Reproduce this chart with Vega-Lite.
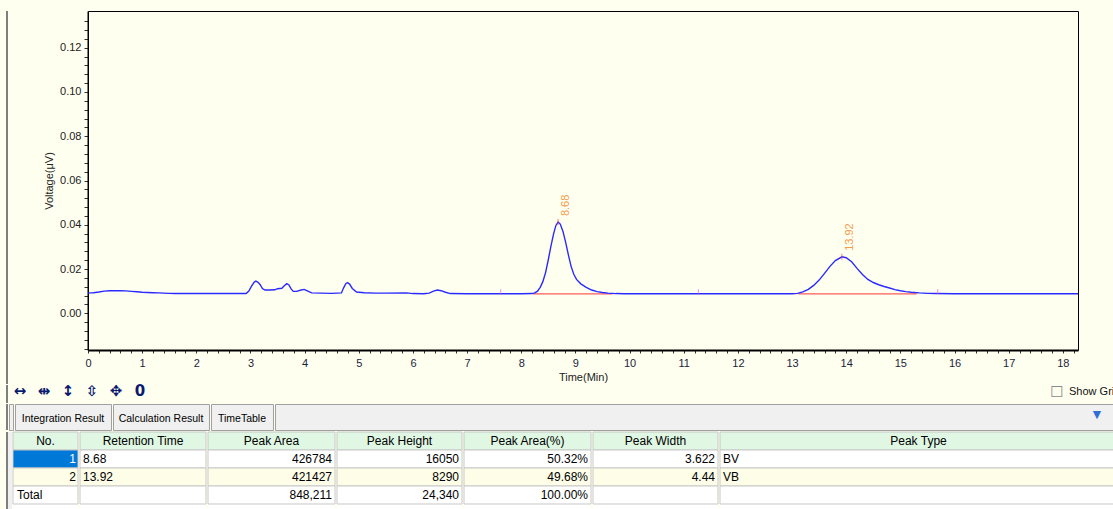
{
  "$schema": "https://vega.github.io/schema/vega-lite/v6.json",
  "background": "#FFFFF0",
  "padding": {"left": 6, "top": 10, "right": 0, "bottom": 0},
  "spacing": 0,
  "config": {"font": "Liberation Sans", "view": {"stroke": null}, "concat": {"spacing": 0}},
  "datasets": {
    "trace": [
      {"t": 0, "v": 0.0091}, {"t": 0.05, "v": 0.0092}, {"t": 0.1, "v": 0.0093}, {"t": 0.2, "v": 0.0096},
      {"t": 0.3, "v": 0.01}, {"t": 0.4, "v": 0.0102}, {"t": 0.5, "v": 0.0102}, {"t": 0.6, "v": 0.0102},
      {"t": 0.7, "v": 0.0101}, {"t": 0.8, "v": 0.0099}, {"t": 0.9, "v": 0.0097}, {"t": 1.0, "v": 0.0095},
      {"t": 1.1, "v": 0.0094}, {"t": 1.2, "v": 0.0093}, {"t": 1.3, "v": 0.0092}, {"t": 1.4, "v": 0.0091},
      {"t": 1.5, "v": 0.009}, {"t": 1.6, "v": 0.0089}, {"t": 1.7, "v": 0.0089}, {"t": 2.0, "v": 0.0089},
      {"t": 2.5, "v": 0.0089}, {"t": 2.92, "v": 0.0089}, {"t": 2.97, "v": 0.01}, {"t": 3.02, "v": 0.0123},
      {"t": 3.07, "v": 0.0141}, {"t": 3.1, "v": 0.0146}, {"t": 3.14, "v": 0.014}, {"t": 3.18, "v": 0.0129},
      {"t": 3.22, "v": 0.0112}, {"t": 3.27, "v": 0.0105}, {"t": 3.35, "v": 0.0105}, {"t": 3.45, "v": 0.0106},
      {"t": 3.5, "v": 0.0111}, {"t": 3.58, "v": 0.0113}, {"t": 3.62, "v": 0.0123}, {"t": 3.67, "v": 0.0134},
      {"t": 3.71, "v": 0.0128}, {"t": 3.75, "v": 0.011}, {"t": 3.79, "v": 0.0099}, {"t": 3.85, "v": 0.0099},
      {"t": 3.92, "v": 0.0104}, {"t": 3.99, "v": 0.0108}, {"t": 4.05, "v": 0.0101}, {"t": 4.13, "v": 0.0092},
      {"t": 4.3, "v": 0.0091}, {"t": 4.5, "v": 0.009}, {"t": 4.68, "v": 0.0092}, {"t": 4.72, "v": 0.0115},
      {"t": 4.76, "v": 0.0134}, {"t": 4.79, "v": 0.0139}, {"t": 4.83, "v": 0.0132}, {"t": 4.88, "v": 0.0112},
      {"t": 4.96, "v": 0.0096}, {"t": 5.1, "v": 0.0093}, {"t": 5.3, "v": 0.0091}, {"t": 5.5, "v": 0.0091},
      {"t": 5.88, "v": 0.0092}, {"t": 6.0, "v": 0.0089}, {"t": 6.2, "v": 0.0088}, {"t": 6.3, "v": 0.0091},
      {"t": 6.38, "v": 0.01}, {"t": 6.45, "v": 0.0105}, {"t": 6.52, "v": 0.0102}, {"t": 6.6, "v": 0.0095},
      {"t": 6.69, "v": 0.0089}, {"t": 7.0, "v": 0.0088}, {"t": 7.5, "v": 0.0088}, {"t": 8.0, "v": 0.0088},
      {"t": 8.2, "v": 0.0089}, {"t": 8.25, "v": 0.0092}, {"t": 8.3, "v": 0.01}, {"t": 8.35, "v": 0.0117},
      {"t": 8.4, "v": 0.0144}, {"t": 8.45, "v": 0.0185}, {"t": 8.5, "v": 0.0243}, {"t": 8.55, "v": 0.0306},
      {"t": 8.6, "v": 0.0362}, {"t": 8.64, "v": 0.0397}, {"t": 8.68, "v": 0.0412}, {"t": 8.72, "v": 0.0403},
      {"t": 8.77, "v": 0.037}, {"t": 8.82, "v": 0.032}, {"t": 8.87, "v": 0.0264}, {"t": 8.92, "v": 0.0212},
      {"t": 8.97, "v": 0.0176}, {"t": 9.02, "v": 0.0153}, {"t": 9.1, "v": 0.0133}, {"t": 9.2, "v": 0.0117},
      {"t": 9.3, "v": 0.0105}, {"t": 9.4, "v": 0.0098}, {"t": 9.5, "v": 0.0094}, {"t": 9.6, "v": 0.0091},
      {"t": 9.75, "v": 0.0089}, {"t": 9.9, "v": 0.0088}, {"t": 10.5, "v": 0.0088}, {"t": 11.0, "v": 0.0088},
      {"t": 12.0, "v": 0.0088}, {"t": 13.0, "v": 0.0088}, {"t": 13.1, "v": 0.009}, {"t": 13.2, "v": 0.0097},
      {"t": 13.3, "v": 0.0108}, {"t": 13.4, "v": 0.0126}, {"t": 13.5, "v": 0.015}, {"t": 13.6, "v": 0.018},
      {"t": 13.7, "v": 0.0212}, {"t": 13.8, "v": 0.0238}, {"t": 13.92, "v": 0.0255}, {"t": 14.0, "v": 0.0251},
      {"t": 14.1, "v": 0.0233}, {"t": 14.2, "v": 0.0203}, {"t": 14.3, "v": 0.0175}, {"t": 14.4, "v": 0.0153},
      {"t": 14.5, "v": 0.0139}, {"t": 14.6, "v": 0.0129}, {"t": 14.7, "v": 0.0121}, {"t": 14.8, "v": 0.0114},
      {"t": 14.9, "v": 0.0107}, {"t": 15.0, "v": 0.0102}, {"t": 15.1, "v": 0.0098}, {"t": 15.2, "v": 0.0095},
      {"t": 15.35, "v": 0.0092}, {"t": 15.5, "v": 0.009}, {"t": 15.65, "v": 0.0089}, {"t": 16.0, "v": 0.0088},
      {"t": 17.0, "v": 0.0088}, {"t": 18.28, "v": 0.0088}
    ],
    "baselines": [
      {"t": 8.22, "t2": 9.68, "v": 0.0088},
      {"t": 13.12, "t2": 15.3, "v": 0.0088}
    ],
    "peaks": [
      {"t": 8.68, "v": 0.0412, "label": "8.68"},
      {"t": 13.92, "v": 0.0255, "label": "13.92"}
    ],
    "events": [
      {"t": 7.62, "v": 0.0097}, {"t": 11.27, "v": 0.0097}, {"t": 15.69, "v": 0.0097}
    ],
    "table": [
      {"row": "h", "no": "No.", "rt": "Retention Time", "area": "Peak Area", "height": "Peak Height", "pct": "Peak Area(%)", "width": "Peak Width", "type": "Peak Type"},
      {"row": "1", "no": "1", "rt": "8.68", "area": "426784", "height": "16050", "pct": "50.32%", "width": "3.622", "type": "BV"},
      {"row": "2", "no": "2", "rt": "13.92", "area": "421427", "height": "8290", "pct": "49.68%", "width": "4.44", "type": "VB"},
      {"row": "Total", "no": "Total", "rt": "", "area": "848,211", "height": "24,340", "pct": "100.00%", "width": "", "type": ""}
    ]
  },
  "vconcat": [
    {
      "spacing": 0,
      "bounds": "flush",
      "hconcat": [
        {"width": 2, "height": 373, "view": {"fill": "#7f7f7f", "stroke": null}, "data": {"values": [{}]}, "mark": {"type": "text", "text": ""}, "encoding": {}},
        {
          "width": 80,
          "height": 339,
          "view": {"fill": "#FFFFF0", "stroke": null},
          "data": {"name": "trace"},
          "mark": {"type": "point", "opacity": 0},
          "encoding": {
            "y": {"field": "v", "type": "quantitative", "scale": {"domain": [-0.0166, 0.1366], "nice": false, "zero": false},
                  "axis": {
                    "orient": "left",
                    "offset": -80,
                    "values": [-0.016,-0.012,-0.008,-0.004,0,0.004,0.008,0.012,0.016,0.02,0.024,0.028,0.032,0.036,0.04,0.044,0.048,0.052,0.056,0.06,0.064,0.068,0.072,0.076,0.08,0.084,0.088,0.092,0.096,0.1,0.104,0.108,0.112,0.116,0.12,0.124,0.128,0.132],
                    "labelExpr": "abs(datum.value*50 - round(datum.value*50)) < 0.01 ? format(datum.value, '.2f') : ''",
                    "tickSize": 4,
                    "title": "Voltage(μV)", "titleFontSize": 11, "titleFontWeight": "normal", "titleColor": "#222222", "titlePadding": 5,
                    "labelFontSize": 11, "labelColor": "#222222", "labelPadding": 3, "labelOverlap": false, "labelBound": false, "labelFlush": false,
                    "domainColor": "#000000", "domainWidth": 2, "tickColor": "#333333", "grid": false
                  }}
          }
        },
        {
          "width": 990,
          "height": 339,
          "view": {"fill": "#FFFFF0", "stroke": "#000000", "strokeWidth": 1},
          "encoding": {
            "x": {"field": "t", "type": "quantitative", "scale": {"domain": [0, 18.28], "nice": false, "zero": false},
                  "axis": {
                    "values": [0,0.2,0.4,0.6,0.8,1,1.2,1.4,1.6,1.8,2,2.2,2.4,2.6,2.8,3,3.2,3.4,3.6,3.8,4,4.2,4.4,4.6,4.8,5,5.2,5.4,5.6,5.8,6,6.2,6.4,6.6,6.8,7,7.2,7.4,7.6,7.8,8,8.2,8.4,8.6,8.8,9,9.2,9.4,9.6,9.8,10,10.2,10.4,10.6,10.8,11,11.2,11.4,11.6,11.8,12,12.2,12.4,12.6,12.8,13,13.2,13.4,13.6,13.8,14,14.2,14.4,14.6,14.8,15,15.2,15.4,15.6,15.8,16,16.2,16.4,16.6,16.8,17,17.2,17.4,17.6,17.8,18,18.2],
                    "labelExpr": "abs(datum.value - round(datum.value)) < 0.01 ? format(round(datum.value), 'd') : ''",
                    "tickSize": 3,
                    "title": "Time(Min)", "titleFontSize": 11, "titleFontWeight": "normal", "titleColor": "#222222", "titlePadding": 3,
                    "labelFontSize": 11, "labelColor": "#1c1c3c", "labelPadding": 4, "labelOverlap": false, "labelFlush": false, "labelBound": false,
                    "domainColor": "#000000", "domainWidth": 2, "tickColor": "#333333", "grid": false
                  }}
          },
          "layer": [
            {
              "data": {"name": "baselines"},
              "mark": {"type": "rule", "color": "#ff5a5a", "strokeWidth": 1.2},
              "encoding": {
                "x2": {"field": "t2"},
                "y": {"field": "v", "type": "quantitative", "scale": {"domain": [-0.0166, 0.1366], "nice": false, "zero": false}, "axis": null}
              }
            },
            {
              "data": {"name": "trace"},
              "mark": {"type": "line", "color": "#2a2aff", "strokeWidth": 1.4},
              "encoding": {
                "y": {"field": "v", "type": "quantitative", "scale": {"domain": [-0.0166, 0.1366], "nice": false, "zero": false}, "axis": null}
              }
            },
            {
              "data": {"name": "peaks"},
              "mark": {"type": "tick", "orient": "vertical", "color": "#ff3c3c", "size": 6, "thickness": 1},
              "encoding": {
                "y": {"field": "v", "type": "quantitative", "axis": null}
              }
            },
            {
              "data": {"name": "events"},
              "mark": {"type": "tick", "orient": "vertical", "color": "#f050f0", "size": 5, "thickness": 1},
              "encoding": {
                "y": {"field": "v", "type": "quantitative", "axis": null}
              }
            },
            {
              "data": {"name": "peaks"},
              "mark": {"type": "text", "angle": 270, "align": "left", "baseline": "top", "dx": 6, "dy": 2, "fontSize": 11, "color": "#f39c4c"},
              "encoding": {
                "y": {"field": "v", "type": "quantitative", "axis": null},
                "text": {"field": "label"}
              }
            }
          ]
        }
      ]
    },
    {
      "spacing": 898,
      "hconcat": [
        {
          "spacing": 0,
          "hconcat": [
            {"width": 2, "height": 18, "view": {"fill": "#7f7f7f", "stroke": null}, "data": {"values": [{}]}, "mark": {"type": "text", "text": ""}, "encoding": {}},
            {
              "width": 144, "height": 18,
              "data": {"values": [{"icon": "↔"}, {"icon": "⇹"}, {"icon": "↕"}, {"icon": "⇳"}, {"icon": "✥"}, {"icon": "0"}]},
              "mark": {"type": "text", "font": "DejaVu Sans", "fontWeight": "bold", "fontSize": 15, "color": "#0a1a6e", "dy": -3},
              "encoding": {
                "x": {"field": "icon", "type": "nominal", "sort": null, "scale": {"type": "point", "padding": 0.5}, "axis": null},
                "text": {"field": "icon"}
              }
            }
          ]
        },
        {
          "width": 63, "height": 18,
          "data": {"values": [{"label": "Show Grid"}]},
          "layer": [
            {"mark": {"type": "text", "text": "☐", "font": "DejaVu Sans", "fontSize": 15, "color": "#8a8a8a", "dx": -25.5, "dy": -2}, "encoding": {}},
            {"mark": {"type": "text", "align": "left", "fontSize": 11, "color": "#111111", "dx": -13.5, "dy": -2, "clip": true}, "encoding": {"text": {"field": "label"}}}
          ]
        }
      ]
    },
    {
      "spacing": 0,
      "hconcat": [
        {"width": 2, "height": 26, "view": {"fill": "#7f7f7f", "stroke": null}, "data": {"values": [{}]}, "mark": {"type": "text", "text": ""}, "encoding": {}},
        {"width": 4, "height": 26, "view": {"fill": "#f0f0f0", "stroke": "#a0a0a0"}, "data": {"values": [{}]}, "mark": {"type": "text", "text": ""}, "encoding": {}},
        {"width": 96, "height": 26, "view": {"fill": "#f0f0f0", "stroke": "#a0a0a0"}, "data": {"values": [{"tab": "Integration Result"}]}, "mark": {"type": "text", "fontSize": 10.5, "color": "#000000", "dy": 2}, "encoding": {"text": {"field": "tab"}}},
        {"width": 96, "height": 26, "view": {"fill": "#f0f0f0", "stroke": "#a0a0a0"}, "data": {"values": [{"tab": "Calculation Result"}]}, "mark": {"type": "text", "fontSize": 10.5, "color": "#000000", "dy": 2}, "encoding": {"text": {"field": "tab"}}},
        {"width": 62, "height": 26, "view": {"fill": "#f0f0f0", "stroke": "#a0a0a0"}, "data": {"values": [{"tab": "TimeTable"}]}, "mark": {"type": "text", "fontSize": 10.5, "color": "#000000", "dy": 2}, "encoding": {"text": {"field": "tab"}}},
        {"width": 844, "height": 26, "view": {"fill": "#f0f0f0", "stroke": "#a0a0a0"}, "data": {"values": [{"btn": "▼"}]}, "mark": {"type": "text", "fontSize": 14, "color": "#2f6fd6", "dx": 400, "dy": -2}, "encoding": {"text": {"field": "btn"}}}
      ]
    },
    {
      "spacing": 0,
      "hconcat": [
        {"width": 2, "height": 78, "view": {"fill": "#7f7f7f", "stroke": null}, "data": {"values": [{}]}, "mark": {"type": "text", "text": ""}, "encoding": {}},
        {"width": 4, "height": 78, "view": {"fill": "#f0f0f0", "stroke": null}, "data": {"values": [{}]}, "mark": {"type": "text", "text": ""}, "encoding": {}},
        {
          "width": 65, "height": 78, "data": {"name": "table"}, "view": {"fill": "#ffffff", "stroke": null},
          "encoding": {"y": {"field": "row", "type": "nominal", "scale": {"domain": ["h", "1", "2", "Total"], "paddingInner": 0, "paddingOuter": 0.1667, "align": 0}, "axis": null}},
          "layer": [
            {"mark": {"type": "rect", "stroke": "#c8c8c8", "strokeWidth": 1}, "encoding": {"fill": {"condition": [{"test": "datum.row == 'h'", "value": "#dff7e3"}, {"test": "datum.row == '1'", "value": "#0078d7"}, {"test": "datum.row == '2'", "value": "#fdfde8"}], "value": "#ffffff"}}},
            {"transform": [{"filter": "datum.row == 'h'"}], "mark": {"type": "text", "fontSize": 12, "color": "#000000"}, "encoding": {"text": {"field": "no"}}},
            {"transform": [{"filter": "datum.row == '1' || datum.row == '2'"}], "mark": {"type": "text", "fontSize": 12, "align": "right", "dx": 30.5}, "encoding": {"text": {"field": "no"}, "color": {"condition": {"test": "datum.row == '1'", "value": "#ffffff"}, "value": "#000000"}}},
            {"transform": [{"filter": "datum.row == 'Total'"}], "mark": {"type": "text", "fontSize": 12, "align": "left", "dx": -28.5, "color": "#000000"}, "encoding": {"text": {"field": "no"}}}
          ]
        },
        {
          "width": 126, "height": 78, "data": {"name": "table"}, "view": {"fill": "#ffffff", "stroke": null},
          "encoding": {"y": {"field": "row", "type": "nominal", "scale": {"domain": ["h", "1", "2", "Total"], "paddingInner": 0, "paddingOuter": 0.1667, "align": 0}, "axis": null}},
          "layer": [
            {"mark": {"type": "rect", "stroke": "#c8c8c8", "strokeWidth": 1}, "encoding": {"fill": {"condition": [{"test": "datum.row == 'h'", "value": "#dff7e3"}, {"test": "datum.row == '2'", "value": "#fdfde8"}], "value": "#ffffff"}}},
            {"transform": [{"filter": "datum.row == 'h'"}], "mark": {"type": "text", "fontSize": 12, "color": "#000000"}, "encoding": {"text": {"field": "rt"}}},
            {"transform": [{"filter": "datum.row != 'h'"}], "mark": {"type": "text", "fontSize": 12, "align": "left", "dx": -60, "color": "#000000"}, "encoding": {"text": {"field": "rt"}}}
          ]
        },
        {
          "width": 127, "height": 78, "data": {"name": "table"}, "view": {"fill": "#ffffff", "stroke": null},
          "encoding": {"y": {"field": "row", "type": "nominal", "scale": {"domain": ["h", "1", "2", "Total"], "paddingInner": 0, "paddingOuter": 0.1667, "align": 0}, "axis": null}},
          "layer": [
            {"mark": {"type": "rect", "stroke": "#c8c8c8", "strokeWidth": 1}, "encoding": {"fill": {"condition": [{"test": "datum.row == 'h'", "value": "#dff7e3"}, {"test": "datum.row == '2'", "value": "#fdfde8"}], "value": "#ffffff"}}},
            {"transform": [{"filter": "datum.row == 'h'"}], "mark": {"type": "text", "fontSize": 12, "color": "#000000"}, "encoding": {"text": {"field": "area"}}},
            {"transform": [{"filter": "datum.row != 'h'"}], "mark": {"type": "text", "fontSize": 12, "align": "right", "dx": 60.5, "color": "#000000"}, "encoding": {"text": {"field": "area"}}}
          ]
        },
        {
          "width": 125, "height": 78, "data": {"name": "table"}, "view": {"fill": "#ffffff", "stroke": null},
          "encoding": {"y": {"field": "row", "type": "nominal", "scale": {"domain": ["h", "1", "2", "Total"], "paddingInner": 0, "paddingOuter": 0.1667, "align": 0}, "axis": null}},
          "layer": [
            {"mark": {"type": "rect", "stroke": "#c8c8c8", "strokeWidth": 1}, "encoding": {"fill": {"condition": [{"test": "datum.row == 'h'", "value": "#dff7e3"}, {"test": "datum.row == '2'", "value": "#fdfde8"}], "value": "#ffffff"}}},
            {"transform": [{"filter": "datum.row == 'h'"}], "mark": {"type": "text", "fontSize": 12, "color": "#000000"}, "encoding": {"text": {"field": "height"}}},
            {"transform": [{"filter": "datum.row != 'h'"}], "mark": {"type": "text", "fontSize": 12, "align": "right", "dx": 59.5, "color": "#000000"}, "encoding": {"text": {"field": "height"}}}
          ]
        },
        {
          "width": 127, "height": 78, "data": {"name": "table"}, "view": {"fill": "#ffffff", "stroke": null},
          "encoding": {"y": {"field": "row", "type": "nominal", "scale": {"domain": ["h", "1", "2", "Total"], "paddingInner": 0, "paddingOuter": 0.1667, "align": 0}, "axis": null}},
          "layer": [
            {"mark": {"type": "rect", "stroke": "#c8c8c8", "strokeWidth": 1}, "encoding": {"fill": {"condition": [{"test": "datum.row == 'h'", "value": "#dff7e3"}, {"test": "datum.row == '2'", "value": "#fdfde8"}], "value": "#ffffff"}}},
            {"transform": [{"filter": "datum.row == 'h'"}], "mark": {"type": "text", "fontSize": 12, "color": "#000000"}, "encoding": {"text": {"field": "pct"}}},
            {"transform": [{"filter": "datum.row != 'h'"}], "mark": {"type": "text", "fontSize": 12, "align": "right", "dx": 60.5, "color": "#000000"}, "encoding": {"text": {"field": "pct"}}}
          ]
        },
        {
          "width": 125, "height": 78, "data": {"name": "table"}, "view": {"fill": "#ffffff", "stroke": null},
          "encoding": {"y": {"field": "row", "type": "nominal", "scale": {"domain": ["h", "1", "2", "Total"], "paddingInner": 0, "paddingOuter": 0.1667, "align": 0}, "axis": null}},
          "layer": [
            {"mark": {"type": "rect", "stroke": "#c8c8c8", "strokeWidth": 1}, "encoding": {"fill": {"condition": [{"test": "datum.row == 'h'", "value": "#dff7e3"}, {"test": "datum.row == '2'", "value": "#fdfde8"}], "value": "#ffffff"}}},
            {"transform": [{"filter": "datum.row == 'h'"}], "mark": {"type": "text", "fontSize": 12, "color": "#000000"}, "encoding": {"text": {"field": "width"}}},
            {"transform": [{"filter": "datum.row != 'h'"}], "mark": {"type": "text", "fontSize": 12, "align": "right", "dx": 59.5, "color": "#000000"}, "encoding": {"text": {"field": "width"}}}
          ]
        },
        {
          "width": 397, "height": 78, "data": {"name": "table"}, "view": {"fill": "#ffffff", "stroke": null},
          "encoding": {"y": {"field": "row", "type": "nominal", "scale": {"domain": ["h", "1", "2", "Total"], "paddingInner": 0, "paddingOuter": 0.1667, "align": 0}, "axis": null}},
          "layer": [
            {"mark": {"type": "rect", "stroke": "#c8c8c8", "strokeWidth": 1}, "encoding": {"fill": {"condition": [{"test": "datum.row == 'h'", "value": "#dff7e3"}, {"test": "datum.row == '2'", "value": "#fdfde8"}], "value": "#ffffff"}}},
            {"transform": [{"filter": "datum.row == 'h'"}], "mark": {"type": "text", "fontSize": 12, "color": "#000000"}, "encoding": {"text": {"field": "type"}}},
            {"transform": [{"filter": "datum.row != 'h'"}], "mark": {"type": "text", "fontSize": 12, "align": "left", "dx": -195.5, "color": "#000000"}, "encoding": {"text": {"field": "type"}}}
          ]
        },
        {"width": 6, "height": 78, "view": {"fill": "#f0f0f0", "stroke": "#a0a0a0"}, "data": {"values": [{}]}, "mark": {"type": "text", "text": ""}, "encoding": {}}
      ]
    }
  ]
}
